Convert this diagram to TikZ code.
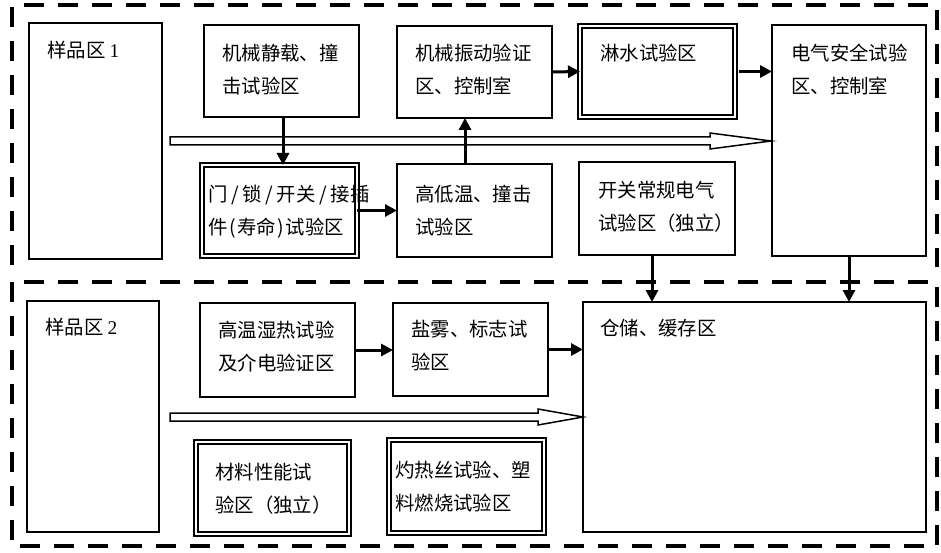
\documentclass[tikz,border=0pt]{standalone}
\usepackage{fontspec}
\setmainfont{Liberation Serif}
\newfontfamily\cjk{Noto Sans CJK SC}
\usetikzlibrary{arrows.meta,calc}
\begin{document}
\begin{tikzpicture}[x=1pt,y=-1pt,
  zone/.style={line width=3.6pt,dash pattern=on 20pt off 14pt},
  box/.style={draw,line width=1.6pt,anchor=north west,inner sep=0pt,outer sep=0pt},
  dbox/.style={draw,line width=1.8pt,double,double distance=2.2pt,anchor=north west,inner sep=0pt,outer sep=0pt},
  txt/.style={anchor=north west,inner sep=0pt,align=left,font=\cjk\fontsize{19.4}{33}\selectfont},
  flow/.style={line width=3pt,-{Triangle[length=12pt,width=12pt]}},
  hollow/.style={draw,line width=1.5pt,fill=white,line join=miter}]
\useasboundingbox (0,0) rectangle (941,553);
% zones
\draw[zone] (12,265) -- (12,5) -- (937,5) -- (937,267);
\draw[zone] (12,282) rectangle (937,546);
% boxes top
\node[box,minimum width=133pt,minimum height=236pt] (S1) at (29,23) {};
\node[box,minimum width=155pt,minimum height=92pt] (A) at (204,25) {};
\node[box,minimum width=155pt,minimum height=92pt] (B) at (397,26) {};
\node[dbox,minimum width=155pt,minimum height=91pt] (C) at (580,26) {};
\node[box,minimum width=154pt,minimum height=231pt] (D) at (772,25) {};
\node[dbox,minimum width=155pt,minimum height=91pt] (E) at (202,165) {};
\node[box,minimum width=155pt,minimum height=93pt] (F) at (397,164) {};
\node[box,minimum width=156pt,minimum height=93pt] (G) at (579,162) {};
% boxes bottom
\node[box,minimum width=132pt,minimum height=231pt] (S2) at (27,301) {};
\node[box,minimum width=155pt,minimum height=94pt] (H) at (200,303) {};
\node[box,minimum width=155pt,minimum height=93pt] (I) at (393,303) {};
\node[box,minimum width=343pt,minimum height=230pt] (J) at (583,302) {};
\node[dbox,minimum width=153pt,minimum height=92pt] (K) at (196,442) {};
\node[dbox,minimum width=155pt,minimum height=93pt] (L) at (389,440) {};
% texts
\node[txt] (tS1) at (47,40.5) {样品区 \textrm{1}};
\node[txt] (tA) at (222,43.5) {机械静载、撞\\击试验区};
\node[txt] (tB) at (415,43.5) {机械振动验证\\区、控制室};
\node[txt] (tC) at (600,43.5) {淋水试验区};
\node[txt] (tD) at (791,43.5) {电气安全试验\\区、控制室};
\node[txt] (tE) at (208,184.5) {门\makebox[15pt]{/}锁\makebox[15pt]{/}开关\makebox[15pt]{/}接插\\件\makebox[9.7pt]{(}寿命\makebox[9.7pt]{)}试验区};
\node[txt] (tF) at (415,184.5) {高低温、撞击\\试验区};
\node[txt] (tG) at (598,180.5) {开关常规电气\\试验区（独立）};
\node[txt] (tS2) at (45,317.5) {样品区 \textrm{2}};
\node[txt] (tH) at (218,320.5) {高温湿热试验\\及介电验证区};
\node[txt] (tI) at (411,320.5) {盐雾、标志试\\验区};
\node[txt] (tJ) at (600,318.5) {仓储、缓存区};
\node[txt] (tK) at (215,462.5) {材料性能试\\验区（独立）};
\node[txt] (tL) at (395,460.5) {灼热丝试验、塑\\料燃烧试验区};
% hollow arrows
\coordinate (h1) at (771,141);
\coordinate (h2) at (583,417);
\draw[hollow] (170,137) -- (710,137) -- (710,133) -- (h1) -- (710,149) -- (710,145) -- (170,145) -- cycle;
\draw[hollow] (170,413) -- (538,413) -- (538,409) -- (h2) -- (538,425) -- (538,421) -- (170,421) -- cycle;
% flow arrows
\coordinate (a1) at ($(A.south west)+(79,0)$);
\draw[flow] (a1) -- (a1 |- E.north);
\draw[flow] (E.east) -- (F.west);
\coordinate (f1) at ($(F.north west)+(68,0)$);
\draw[flow] (f1) -- (f1 |- B.south);
\draw[flow] (B.east) -- (C.west);
\draw[flow,shorten <=4pt] (C.east) -- (C.east -| D.west);
\coordinate (g1) at ($(G.south west)+(73,0)$);
\draw[flow] (g1) -- (g1 |- J.north);
\draw[flow] (D.south) -- (D.south |- J.north);
\draw[flow] (H.east) -- (H.east -| I.west);
\draw[flow] (I.east) -- (I.east -| J.west);
\end{tikzpicture}
\end{document}
